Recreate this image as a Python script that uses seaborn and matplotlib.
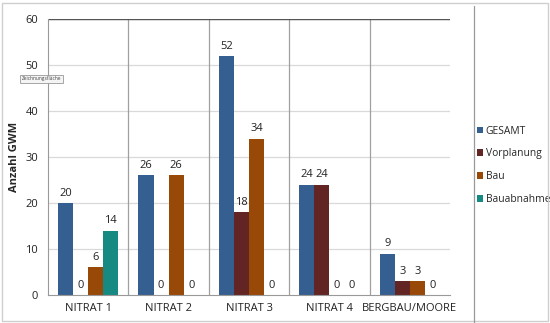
import pandas as pd
import matplotlib.pyplot as plt
import seaborn as sns
from matplotlib.patches import Rectangle

# values
categories = ['NITRAT 1', 'NITRAT 2', 'NITRAT 3', 'NITRAT 4', 'BERGBAU/MOORE']
series = ['GESAMT', 'Vorplanung', 'Bau', 'Bauabnahme']
gesamt = [20, 26, 52, 24, 9]
vorplanung = [0, 0, 18, 24, 3]
bau = [6, 26, 34, 0, 3]
bauabnahme = [14, 0, 0, 0, 0]
colors = ['#365F91', '#632523', '#984807', '#168A82']

rows = []
for name, vals in zip(series, [gesamt, vorplanung, bau, bauabnahme]):
    for cat, v in zip(categories, vals):
        rows.append({'Kategorie': cat, 'Serie': name, 'Wert': v})
df = pd.DataFrame(rows)

sns.set_style('white')
plt.rcParams['font.family'] = ['Open Sans', 'DejaVu Sans']

fig = plt.figure(figsize=(5.5, 3.23), dpi=100)
ax = fig.add_axes([48 / 550, 28 / 323, 402 / 550, 276 / 323])

sns.barplot(data=df, x='Kategorie', y='Wert', hue='Serie', hue_order=series,
            palette=colors, width=0.75, saturation=1, ax=ax, legend=True,
            edgecolor='none', linewidth=0)

ax.set_ylim(0, 60)
ax.set_xlim(-0.5, len(categories) - 0.5)
ax.set_yticks(range(0, 61, 10))
ax.set_xlabel('')
ax.set_ylabel('Anzahl GWM', fontsize=8, fontweight='bold', labelpad=4)
ax.tick_params(axis='both', labelsize=8, colors='#222222', length=0, pad=6)
ax.tick_params(axis='y', length=4, direction='out', color='#999999', pad=3)

# gridlines and category separators
for y in range(10, 61, 10):
    ax.axhline(y, color='#d9d9d9', lw=0.9, zorder=0)
for i in range(1, len(categories)):
    ax.axvline(i - 0.5, color='#a0a0a0', lw=0.9, zorder=0)
ax.axhline(60, color='#555555', lw=1.0)

for side in ['top', 'right']:
    ax.spines[side].set_visible(False)
ax.spines['left'].set_color('#999999')
ax.spines['bottom'].set_color('#999999')

for cont in ax.containers:
    ax.bar_label(cont, fmt='%d', padding=3, fontsize=8, color='#222222')

leg = ax.legend(loc='center left', bbox_to_anchor=((477 - 48) / 402, 0.47), frameon=False,
                fontsize=7.4, handlelength=0.6, handleheight=0.6, handletextpad=0.25,
                labelspacing=1.15, borderaxespad=0, borderpad=0)

# legend box edge and outer frame
fig.add_artist(plt.Line2D([474 / 550, 474 / 550], [0.0, 0.98], color='#999999', lw=0.9))
fig.add_artist(Rectangle((2 / 550, 2 / 323), 546 / 550, 318 / 323, fill=False,
                         edgecolor='#cfcfcf', lw=1.0, transform=fig.transFigure))

# the tooltip label from the original screenshot
fig.text(22 / 550, 1 - 79 / 323, 'Zeichnungsfläche', fontsize=3.5, color='#444444',
         va='center', bbox=dict(boxstyle='square,pad=0.4', fc='#f4f4f4', ec='#999999', lw=0.6))

fig.savefig('out.png', dpi=100)
